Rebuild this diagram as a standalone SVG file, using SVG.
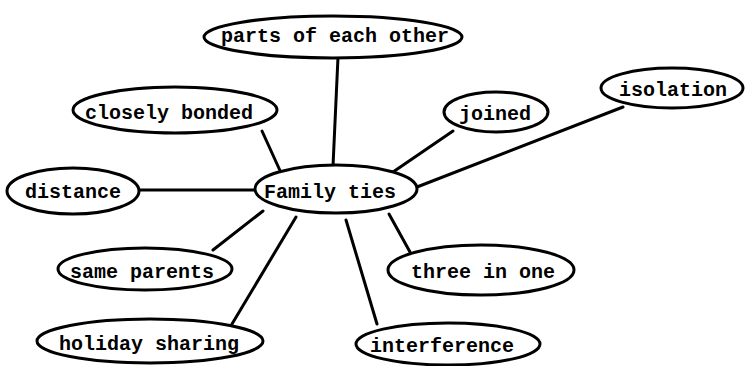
<svg xmlns="http://www.w3.org/2000/svg" width="746" height="366" viewBox="0 0 746 366">
<style>
.n{fill:#fff;stroke:#000;stroke-width:3}
.t{font-family:"Liberation Mono","DejaVu Sans Mono",monospace;font-weight:bold;font-size:20px;text-anchor:middle;fill:#000}
.c line{stroke:#000;stroke-width:3;stroke-linecap:round}
</style>
<rect width="746" height="366" fill="#fff"/>
<g id="connectors" class="c">
<line x1="338" y1="57" x2="333" y2="166"/>
<line x1="262" y1="131" x2="282" y2="175"/>
<line x1="140" y1="190" x2="256" y2="190"/>
<line x1="213" y1="250" x2="263" y2="211"/>
<line x1="232" y1="324" x2="296" y2="217"/>
<line x1="377" y1="324" x2="346" y2="220"/>
<line x1="410" y1="252" x2="389" y2="214"/>
<line x1="453" y1="131" x2="393" y2="172"/>
<line x1="623" y1="107" x2="417" y2="187"/>
</g>
<g id="n-parts"><ellipse class="n" cx="333" cy="37" rx="129" ry="21"/><text class="t" x="335" y="42">parts of each other</text></g>
<g id="n-closely"><ellipse class="n" cx="175" cy="110" rx="102" ry="23"/><text class="t" x="169" y="119">closely bonded</text></g>
<g id="n-distance"><ellipse class="n" cx="73" cy="191" rx="66" ry="23"/><text class="t" x="73" y="198">distance</text></g>
<g id="n-family"><ellipse class="n" cx="336" cy="189" rx="81" ry="24"/><text class="t" x="330" y="198">Family ties</text></g>
<g id="n-joined"><ellipse class="n" cx="496" cy="112" rx="52" ry="20"/><text class="t" x="495" y="120">joined</text></g>
<g id="n-isolation"><ellipse class="n" cx="672" cy="88" rx="71" ry="20"/><text class="t" x="673" y="96">isolation</text></g>
<g id="n-same"><ellipse class="n" cx="145" cy="269" rx="87" ry="21"/><text class="t" x="142" y="278">same parents</text></g>
<g id="n-holiday"><ellipse class="n" cx="150" cy="341" rx="113" ry="22"/><text class="t" x="149" y="350">holiday sharing</text></g>
<g id="n-three"><ellipse class="n" cx="481" cy="270" rx="93" ry="25"/><text class="t" x="483" y="278">three in one</text></g>
<g id="n-interference"><ellipse class="n" cx="448" cy="344" rx="92" ry="21"/><text class="t" x="442" y="352">interference</text></g>
</svg>
